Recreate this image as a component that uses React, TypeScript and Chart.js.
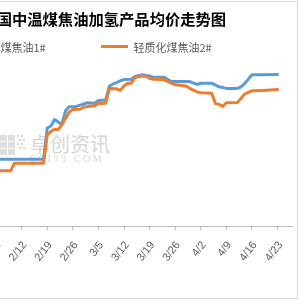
import React, { useEffect, useRef } from "react";
import { Chart, registerables } from "chart.js";

Chart.register(...registerables);

const YEAR = 2021;
const titleText = "中国中温煤焦油加氢产品均价走势图";
const seriesNames = ["轻质化煤焦油1#", "轻质化煤焦油2#"];
const seriesColors = ["#5B9BD5", "#ED7D31"];
const tickLabels = ["2/5", "2/12", "2/19", "2/26", "3/5", "3/12", "3/19", "3/26", "4/2", "4/9", "4/16", "4/23"];
const xRange = ["1/13", "4/27"];
const yRange = [3000, 7250];

const blueDates = ["2/1", "2/18", "2/19", "2/20", "2/21", "2/22", "2/23", "2/24", "2/25", "2/27", "3/2", "3/4", "3/5", "3/7", "3/8", "3/9", "3/11", "3/12", "3/14", "3/15", "3/17", "3/19", "3/20", "3/23", "3/24", "3/25", "3/30", "4/1", "4/2", "4/5", "4/7", "4/9", "4/12", "4/13", "4/14", "4/16", "4/19", "4/23"];
const blueValues = [4670, 4670, 5450, 5500, 5660, 5600, 5540, 5880, 5980, 5990, 6080, 6070, 6140, 6150, 6500, 6550, 6630, 6660, 6670, 6740, 6780, 6750, 6720, 6720, 6660, 6610, 6610, 6540, 6570, 6570, 6480, 6440, 6440, 6480, 6560, 6780, 6780, 6790];

const orangeDates = ["2/1", "2/9", "2/10", "2/18", "2/19", "2/20", "2/21", "2/22", "2/23", "2/25", "2/26", "2/28", "3/1", "3/4", "3/5", "3/7", "3/8", "3/10", "3/11", "3/12", "3/13", "3/14", "3/15", "3/16", "3/18", "3/19", "3/20", "3/23", "3/24", "3/26", "3/29", "3/30", "4/1", "4/2", "4/5", "4/6", "4/7", "4/8", "4/9", "4/12", "4/13", "4/14", "4/15", "4/16", "4/19", "4/23"];
const orangeValues = [4380, 4380, 4570, 4570, 5280, 5360, 5420, 5410, 5530, 5850, 5910, 5920, 5970, 6010, 6060, 6070, 6440, 6430, 6390, 6500, 6570, 6570, 6700, 6740, 6750, 6690, 6670, 6660, 6610, 6530, 6500, 6440, 6350, 6330, 6320, 6060, 6040, 5990, 6080, 6090, 6190, 6300, 6340, 6380, 6390, 6410];

const watermarkText = "卓创资讯";
const watermarkSub = "SCI99.COM";

const CJK = '"Noto Sans CJK SC", "Noto Sans", sans-serif';

const toDay = (s: string) => {
  const [m, d] = s.split("/").map(Number);
  return Date.UTC(YEAR, m - 1, d) / 86400000;
};
const fromDay = (v: number) => {
  const dt = new Date(Math.round(v) * 86400000);
  return `${dt.getUTCMonth() + 1}/${dt.getUTCDate()}`;
};

export default function App() {
  const ref = useRef<HTMLCanvasElement | null>(null);

  useEffect(() => {
    if (!ref.current) return;
    const chart = new Chart(ref.current, {
      type: "line",
      data: {
        datasets: [
          {
            label: seriesNames[0],
            data: blueDates.map((d, i) => ({ x: toDay(d), y: blueValues[i] })),
            borderColor: seriesColors[0],
            backgroundColor: seriesColors[0],
            borderWidth: 3,
            pointRadius: 0,
            tension: 0,
            borderJoinStyle: "round",
            borderCapStyle: "round",
            order: 1,
          },
          {
            label: seriesNames[1],
            data: orangeDates.map((d, i) => ({ x: toDay(d), y: orangeValues[i] })),
            borderColor: seriesColors[1],
            backgroundColor: seriesColors[1],
            borderWidth: 3,
            pointRadius: 0,
            tension: 0,
            borderJoinStyle: "round",
            borderCapStyle: "round",
            order: 0,
          },
        ],
      },
      options: {
        animation: false,
        responsive: false,
        maintainAspectRatio: false,
        layout: { padding: { left: 1, right: 1.5, top: 0, bottom: 0 } },
        plugins: {
          legend: { display: false },
          tooltip: { enabled: false },
          title: {
            display: true,
            text: titleText,
            color: "#000000",
            font: { family: CJK, size: 15.3, weight: "bold", lineHeight: 1.2 },
            padding: { top: 8, bottom: 27.64 },
          },
        },
        scales: {
          x: {
            type: "linear",
            min: toDay(xRange[0]),
            max: toDay(xRange[1]),
            afterBuildTicks: (axis: any) => {
              axis.ticks = tickLabels.map((t) => ({ value: toDay(t) }));
            },
            afterFit: (axis: any) => {
              axis.height = 72;
            },
            grid: { display: true, drawOnChartArea: false, drawTicks: true, tickLength: 4, color: "#bfbfbf" },
            border: { display: true, color: "#bfbfbf", width: 1 },
            ticks: {
              autoSkip: false,
              minRotation: 52,
              maxRotation: 52,
              padding: 9,
              labelOffset: 3,
              color: "#595959",
              font: { family: '"Liberation Sans", Arial, sans-serif', size: 11 },
              callback: (v: any) => fromDay(Number(v)),
            },
          },
          y: { display: false, min: yRange[0], max: yRange[1] },
        },
      },
    });
    return () => chart.destroy();
  }, []);

  return (
    <div style={{ position: "fixed", left: 0, top: 0, width: 300, height: 300, overflow: "hidden", background: "#ffffff" }}>
      <div
        style={{
          position: "absolute",
          left: -90,
          top: 1,
          width: 388,
          height: 298,
          boxSizing: "border-box",
          border: "1px solid #d9d9d9",
          background: "#ffffff",
        }}
      >
        {/* watermark (behind the plot) */}
        <div style={{ position: "absolute", left: 89, top: 131, width: 26, height: 22 }}>
          {[0, 1, 2].map((r) =>
            [0, 1].map((c) => (
              <div
                key={`${r}-${c}`}
                style={{ position: "absolute", left: c * 8, top: r * 7 + 2, width: 7, height: 6, background: "#dedede" }}
              />
            ))
          )}
          {[0, 1, 2, 3].map((r) =>
            [0, 1].map((c) => (
              <div
                key={`s${r}-${c}`}
                style={{ position: "absolute", left: 17 + c * 4 + (r % 2) * 2, top: r * 4 + 2, width: 2, height: 2, background: "#d6d6d6" }}
              />
            ))
          )}
        </div>
        <div
          style={{
            position: "absolute",
            left: 119,
            top: 132,
            fontFamily: CJK,
            fontSize: 20,
            lineHeight: "20px",
            color: "#d6d6d6",
            whiteSpace: "nowrap",
          }}
        >
          {watermarkText}
        </div>
        <div
          style={{
            position: "absolute",
            left: 119,
            top: 152,
            fontFamily: '"Liberation Serif", serif',
            fontSize: 10,
            lineHeight: "10px",
            letterSpacing: "2.6px",
            color: "#dadada",
            whiteSpace: "nowrap",
          }}
        >
          {watermarkSub}
        </div>
        <canvas
          ref={ref}
          width={386}
          height={296}
          style={{ position: "absolute", left: 0, top: 0, width: 386, height: 296 }}
        />
        {/* legend */}
        {seriesNames.map((name, i) => (
          <div
            key={name}
            style={{
              position: "absolute",
              left: i === 0 ? 24 : 190,
              top: 38.7,
              height: 12,
              display: "flex",
              alignItems: "center",
              whiteSpace: "nowrap",
            }}
          >
            <span style={{ display: "inline-block", width: 27, height: 3, background: seriesColors[i], marginRight: 5.5 }} />
            <span style={{ fontFamily: CJK, fontSize: 11, lineHeight: "12px", color: "#595959" }}>{name}</span>
          </div>
        ))}
      </div>
    </div>
  );
}
